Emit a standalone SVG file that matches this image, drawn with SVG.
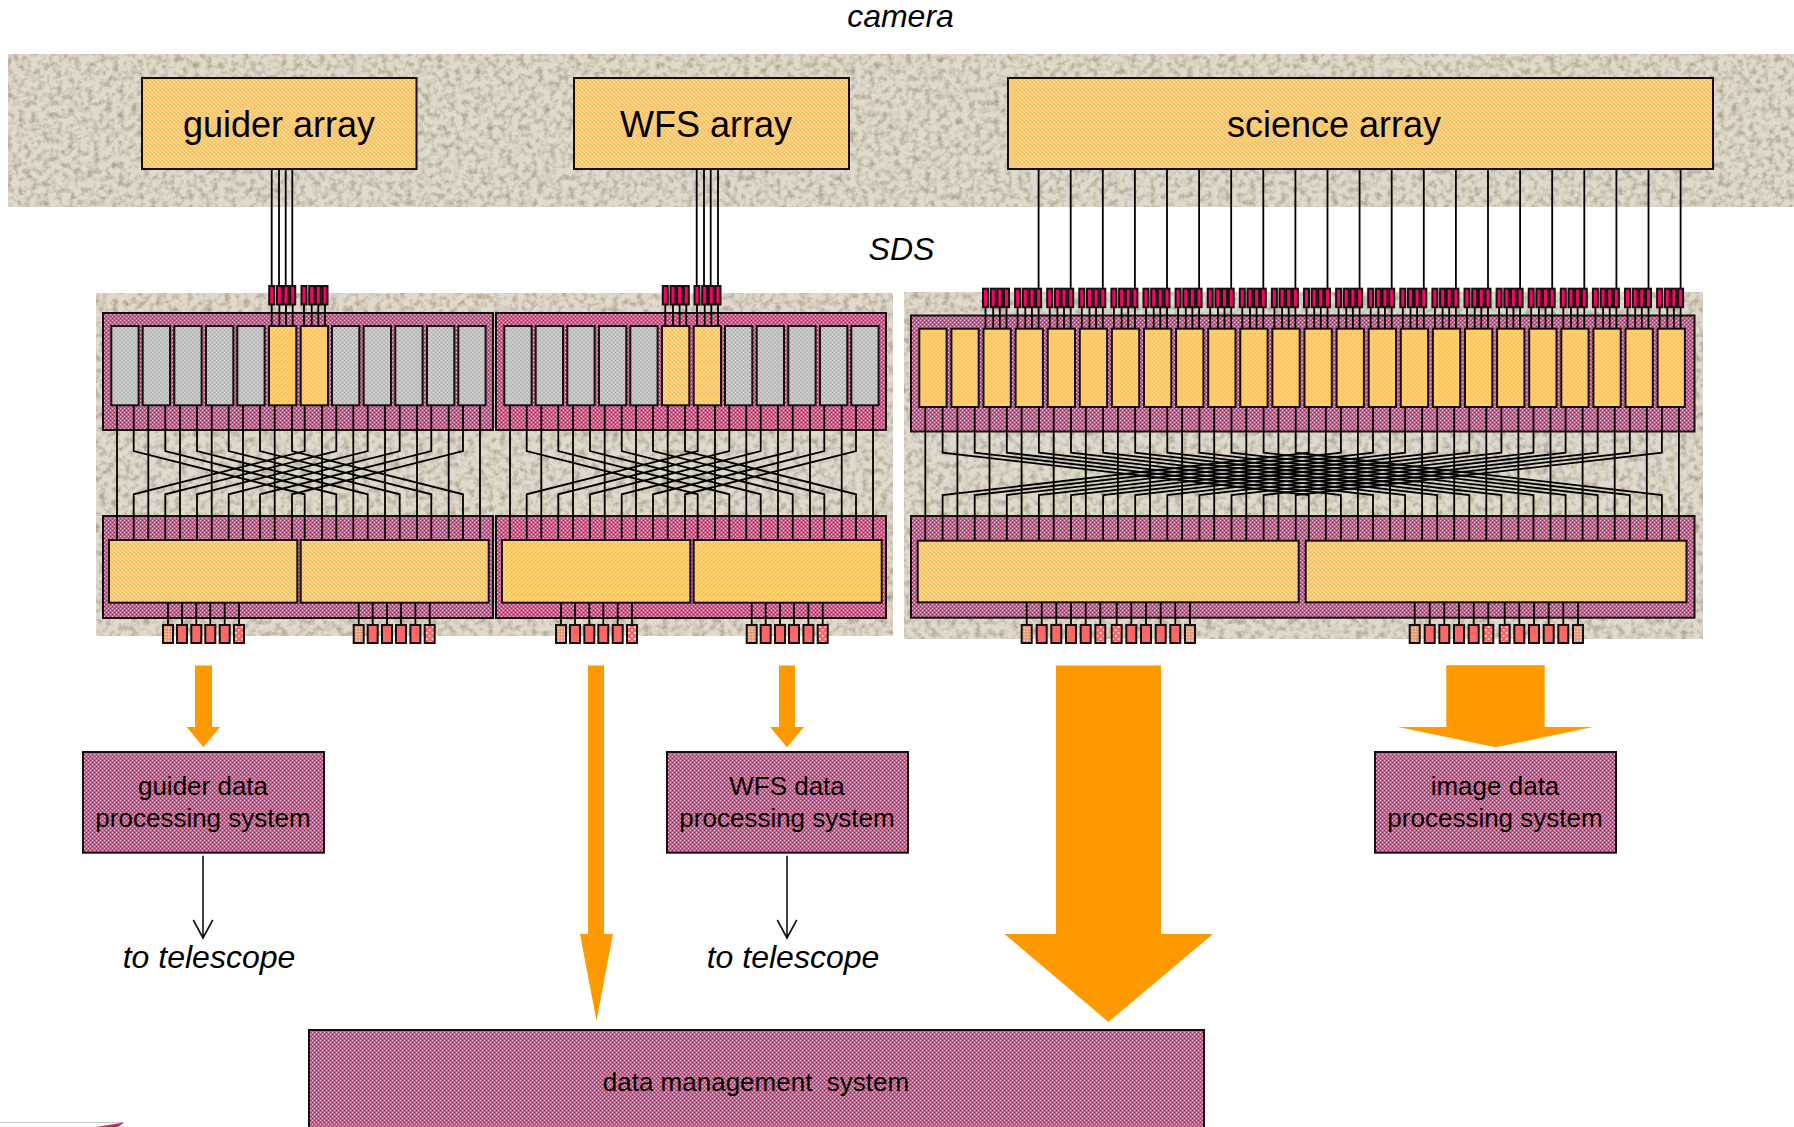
<svg xmlns="http://www.w3.org/2000/svg" xmlns:xlink="http://www.w3.org/1999/xlink" width="1794" height="1127" viewBox="0 0 1794 1127">
<style>
text{font-family:"Liberation Sans",Arial,sans-serif;fill:#000;text-anchor:middle}
.big{font-size:36px}
.mid{font-size:26px;white-space:pre}
.it{font-size:32px;font-style:italic}
.bg{fill:#E1DACC;filter:url(#speck)}
.s{stroke:#111;stroke-width:2}
.pu{fill:url(#pPurple)}
.or{fill:url(#pOrange)}
.gr{fill:url(#pGrey)}
.pk{fill:#FF0066;stroke:#111;stroke-width:2}
.w{fill:none;stroke:#000;stroke-width:1.8}
.c1{fill:url(#pSalmon);stroke:#111;stroke-width:2}
.c2{fill:#FF6666;stroke:#111;stroke-width:2}
.c3{fill:url(#pDots);stroke:#111;stroke-width:2}
.ar{fill:#FF9900}
.thin{fill:none;stroke:#111;stroke-width:1.6}
</style>
<defs>
<filter id="speck" x="0" y="0" width="100%" height="100%" color-interpolation-filters="sRGB">
<feTurbulence type="fractalNoise" baseFrequency="0.16" numOctaves="3" seed="4"/>
<feColorMatrix values="0 0 0 0 .45 0 0 0 0 .40 0 0 0 0 .32 1.1 0 0 0 -.46"/>
<feMerge result="noise"><feMergeNode in="SourceGraphic"/><feMergeNode/></feMerge>
</filter>
<pattern id="pPurple" width="4" height="4" patternUnits="userSpaceOnUse"><rect width="4" height="4" fill="#C6608A"/><rect width="1" height="1" fill="#F2C4D8"/><rect x="2" y="2" width="1" height="1" fill="#F2C4D8"/><rect x="2" width="1" height="1" fill="#A82C64"/><rect y="2" width="1" height="1" fill="#A82C64"/></pattern>
<pattern id="pOrange" width="4" height="4" patternUnits="userSpaceOnUse"><rect width="4" height="4" fill="#FFC966"/><rect width="1" height="1" fill="#FFE2A6"/><rect x="2" y="2" width="1" height="1" fill="#FFE2A6"/><rect x="2" width="1" height="1" fill="#FFB84A"/><rect y="2" width="1" height="1" fill="#FFB84A"/></pattern>
<pattern id="pGrey" width="4" height="4" patternUnits="userSpaceOnUse"><rect width="4" height="4" fill="#C2C2C2"/><rect width="1" height="1" fill="#DEDEDE"/><rect x="2" y="2" width="1" height="1" fill="#DEDEDE"/><rect x="2" width="1" height="1" fill="#A8A8A8"/><rect y="2" width="1" height="1" fill="#A8A8A8"/></pattern>
<pattern id="pSalmon" width="3" height="3" patternUnits="userSpaceOnUse"><rect width="3" height="3" fill="#EBA383"/><rect width="1" height="1" fill="#F8D8C0"/><rect x="2" y="1" width="1" height="1" fill="#E0805C"/></pattern>
<pattern id="pDots" width="6" height="6" patternUnits="userSpaceOnUse"><rect width="6" height="6" fill="#FF6666"/><rect x="1" y="1" width="2" height="2" fill="#FFC8C8"/><rect x="4" y="4" width="2" height="2" fill="#FFC8C8"/></pattern>
<g id="t4">
<path class="w" d="M2 0V-22M9.7 0V-22M16.3 0V-22M23 0V-22"/>
<rect class="pk" x="-.5" y="-40" width="5" height="18.5"/><rect class="pk" x="7.2" y="-40" width="5" height="18.5"/><rect class="pk" x="13.8" y="-40" width="5" height="18.5"/><rect class="pk" x="20.5" y="-40" width="5" height="18.5"/>
</g>
<g id="b6">
<path class="w" d="M0 -22V0M14 -22V0M28.3 -22V0M42.3 -22V0M56.7 -22V0M71 -22V0"/>
<rect class="c1" x="-5" y="0" width="10" height="18"/><rect class="c2" x="9" y="0" width="10" height="18"/><rect class="c2" x="23.3" y="0" width="10" height="18"/><rect class="c2" x="37.3" y="0" width="10" height="18"/><rect class="c2" x="51.7" y="0" width="10" height="18"/><rect class="c3" x="66" y="0" width="10" height="18"/>
</g>
<g id="b12">
<path class="w" d="M0 -22V0M15 -22V0M29.6 -22V0M44.3 -22V0M59 -22V0M73.6 -22V0M90 -22V0M104.6 -22V0M119.3 -22V0M134 -22V0M148.6 -22V0M163.3 -22V0"/>
<rect class="c1" x="-5" width="10" height="18"/><rect class="c2" x="10" width="10" height="18"/><rect class="c2" x="24.6" width="10" height="18"/><rect class="c2" x="39.3" width="10" height="18"/><rect class="c2" x="54" width="10" height="18"/><rect class="c3" x="68.6" width="10" height="18"/><rect class="c3" x="85" width="10" height="18"/><rect class="c2" x="99.6" width="10" height="18"/><rect class="c2" x="114.3" width="10" height="18"/><rect class="c2" x="129" width="10" height="18"/><rect class="c2" x="143.6" width="10" height="18"/><rect class="c1" x="158.3" width="10" height="18"/>
</g>
<rect id="bx" class="s" width="27.3" height="79.3"/>
<rect id="bs" class="s or" width="27.3" height="78.3"/>
<g id="wires12">
<path class="w" d="M117 405V540M148.3 405V540M180 405V540M211.7 405V540M243 405V540M274.7 405V540M322 405V540M353.3 405V540M385 405V540M417 405V540M448.7 405V540M480 405V540"/>
<path class="w" d="M133.7 405V451L304.7 494.3V540M165.3 405V451L336.3 494.3V540M197 405V451L367.7 494.3V540M228.7 405V451L399.7 494.3V540M260 405V451L431.3 494.3V540M292 405V451L463 494.3V540M304.7 405V451L133.7 494.3V540M336.3 405V451L165.3 494.3V540M367.7 405V451L197 494.3V540M399.7 405V451L228.7 494.3V540M431.3 405V451L260 494.3V540M463 405V451L292 494.3V540"/>
</g>
<g id="panel12">
<rect class="s pu" x="103" y="313" width="390" height="117"/>
<rect class="s pu" x="103" y="516" width="390" height="102"/>
<use xlink:href="#bx" href="#bx" x="111.3" y="326" class="gr"/><use href="#bx" x="142.7" y="326" class="gr"/><use href="#bx" x="174.3" y="326" class="gr"/><use href="#bx" x="206" y="326" class="gr"/><use href="#bx" x="237.3" y="326" class="gr"/><use href="#bx" x="269" y="326" class="or"/><use href="#bx" x="300.7" y="326" class="or"/><use href="#bx" x="332" y="326" class="gr"/><use href="#bx" x="363.7" y="326" class="gr"/><use href="#bx" x="395.3" y="326" class="gr"/><use href="#bx" x="427" y="326" class="gr"/><use href="#bx" x="458.3" y="326" class="gr"/>
<rect class="s or" x="109" y="540" width="188.3" height="62.7"/>
<rect class="s or" x="300.7" y="540" width="188" height="62.7"/>
<use href="#b6" x="168" y="625"/><use href="#b6" x="358.7" y="625"/>
</g>
</defs>

<g id="background">
<rect class="bg" x="8" y="54" width="1786" height="153"/>
<rect class="bg" x="96" y="293" width="797" height="343"/>
<rect class="bg" x="904" y="292" width="799" height="347"/>
</g>

<g id="guider-array"><rect class="s or" x="142" y="78" width="274.5" height="91"/><text class="big" x="279" y="137">guider array</text></g>
<g id="wfs-array"><rect class="s or" x="574" y="78" width="275" height="91"/><text class="big" x="706" y="137">WFS array</text></g>
<g id="science-array"><rect class="s or" x="1008" y="78" width="705" height="91"/><text class="big" x="1334" y="137">science array</text></g>

<text id="label-camera" class="it" x="900.5" y="27">camera</text>
<text id="label-sds" class="it" x="901.5" y="260">SDS</text>

<g id="sds-guider"><use href="#panel12"/></g>
<g id="sds-wfs"><use href="#panel12" x="393"/></g>
<g id="sds-science">
<rect class="s pu" x="911" y="315.5" width="783.5" height="116"/>
<rect class="s pu" x="911" y="516" width="783.5" height="101.7"/>
<g transform="translate(0 328.7)"><use href="#bs" x="919.3"/><use href="#bs" x="951.4"/><use href="#bs" x="983.5"/><use href="#bs" x="1015.6"/><use href="#bs" x="1047.7"/><use href="#bs" x="1079.8"/><use href="#bs" x="1111.9"/><use href="#bs" x="1144"/><use href="#bs" x="1176.1"/><use href="#bs" x="1208.2"/><use href="#bs" x="1240.3"/><use href="#bs" x="1272.4"/><use href="#bs" x="1304.5"/><use href="#bs" x="1336.6"/><use href="#bs" x="1368.7"/><use href="#bs" x="1400.8"/><use href="#bs" x="1432.9"/><use href="#bs" x="1465"/><use href="#bs" x="1497.1"/><use href="#bs" x="1529.2"/><use href="#bs" x="1561.3"/><use href="#bs" x="1593.4"/><use href="#bs" x="1625.5"/><use href="#bs" x="1657.6"/></g>
<rect class="s or" x="917.7" y="540.7" width="381" height="61.6"/>
<rect class="s or" x="1305.7" y="540.7" width="380.8" height="61.6"/>
<use href="#b12" x="1026.7" y="625"/><use href="#b12" x="1414.7" y="625"/>
</g>

<g id="connectors">
<use href="#wires12"/>
<use href="#wires12" x="393"/>
<path class="w" d="M925.3 407V541M957.4 407V541M989.5 407V541M1021.6 407V541M1053.7 407V541M1085.8 407V541M1117.9 407V541M1150 407V541M1182.1 407V541M1214.2 407V541M1246.3 407V541M1278.4 407V541M1325.8 407V541M1357.9 407V541M1390 407V541M1422.1 407V541M1454.2 407V541M1486.3 407V541M1518.4 407V541M1550.5 407V541M1582.6 407V541M1614.7 407V541M1646.8 407V541M1678.9 407V541"/>
<path class="w" d="M942.6 407V452.7L1308.8 495V541M974.7 407V452.7L1340.9 495V541M1006.8 407V452.7L1373 495V541M1038.9 407V452.7L1405.1 495V541M1071 407V452.7L1437.2 495V541M1103.1 407V452.7L1469.3 495V541M1135.2 407V452.7L1501.4 495V541M1167.3 407V452.7L1533.5 495V541M1199.4 407V452.7L1565.6 495V541M1231.5 407V452.7L1597.7 495V541M1263.6 407V452.7L1629.8 495V541M1295.7 407V452.7L1661.9 495V541"/>
<path class="w" d="M1308.8 407V452.7L942.6 495V541M1340.9 407V452.7L974.7 495V541M1373 407V452.7L1006.8 495V541M1405.1 407V452.7L1038.9 495V541M1437.2 407V452.7L1071 495V541M1469.3 407V452.7L1103.1 495V541M1501.4 407V452.7L1135.2 495V541M1533.5 407V452.7L1167.3 495V541M1565.6 407V452.7L1199.4 495V541M1597.7 407V452.7L1231.5 495V541M1629.8 407V452.7L1263.6 495V541M1661.9 407V452.7L1295.7 495V541"/>
<path class="w" d="M271.7 169V286M279 169V286M285.7 169V286M292.3 169V286"/>
<path class="w" d="M696.7 169V286M704 169V286M710.7 169V286M718 169V286"/>
<path class="w" d="M1038.6 169V289M1070.7 169V289M1102.8 169V289M1134.9 169V289M1167 169V289M1199.1 169V289M1231.2 169V289M1263.3 169V289M1295.4 169V289M1327.5 169V289M1359.6 169V289M1391.7 169V289M1423.8 169V289M1455.9 169V289M1488 169V289M1520.1 169V289M1552.2 169V289M1584.3 169V289M1616.4 169V289M1648.5 169V289M1680.6 169V289"/>
<path class="thin" d="M203 855.7V938M193.3 920L203 938L212.7 920"/>
<path class="thin" d="M787 855.7V938M777.3 920L787 938L796.7 920"/>
<path class="ar" d="M195 665.5H212V727H220L203.5 747.3L186.7 727H195Z"/>
<path class="ar" d="M588 665.5H604V934H613L596.5 1021L580 934H588Z"/>
<path class="ar" d="M779 665.5H795V727H804L787 747.3L770 727H779Z"/>
<path class="ar" d="M1056 665.5H1161V934H1213L1108.5 1022L1004.5 934H1056Z"/>
<path class="ar" d="M1446.3 665.3H1544.7V727H1593L1495.7 747.3L1398 727H1446.3Z"/>
</g>

<g id="tops">
<use href="#t4" x="269.7" y="326"/><use href="#t4" x="302" y="326"/>
<use href="#t4" x="663.3" y="326"/><use href="#t4" x="695" y="326"/>
<g transform="translate(0 328.7)"><use href="#t4" x="983.5"/><use href="#t4" x="1015.6"/><use href="#t4" x="1047.7"/><use href="#t4" x="1079.8"/><use href="#t4" x="1111.9"/><use href="#t4" x="1144"/><use href="#t4" x="1176.1"/><use href="#t4" x="1208.2"/><use href="#t4" x="1240.3"/><use href="#t4" x="1272.4"/><use href="#t4" x="1304.5"/><use href="#t4" x="1336.6"/><use href="#t4" x="1368.7"/><use href="#t4" x="1400.8"/><use href="#t4" x="1432.9"/><use href="#t4" x="1465"/><use href="#t4" x="1497.1"/><use href="#t4" x="1529.2"/><use href="#t4" x="1561.3"/><use href="#t4" x="1593.4"/><use href="#t4" x="1625.5"/><use href="#t4" x="1657.6"/></g>
</g>

<g id="guider-processing"><rect class="s pu" x="83" y="752" width="241" height="100.7"/><text class="mid" x="203" y="795">guider data</text><text class="mid" x="203" y="827">processing system</text></g>
<g id="wfs-processing"><rect class="s pu" x="667" y="752" width="241" height="100.7"/><text class="mid" x="787" y="795">WFS data</text><text class="mid" x="787" y="827">processing system</text></g>
<g id="image-processing"><rect class="s pu" x="1375" y="752" width="241" height="100.7"/><text class="mid" x="1495" y="795">image data</text><text class="mid" x="1495" y="827">processing system</text></g>
<g id="data-management"><rect class="s pu" x="309" y="1030" width="895" height="110"/><text class="mid" x="756" y="1091">data management  system</text></g>

<text id="label-telescope-1" class="it" x="209" y="968">to telescope</text>
<text id="label-telescope-2" class="it" x="793" y="968">to telescope</text>

<g id="corner-fragment"><path d="M0 1122.5H124" fill="none" stroke="#C8C8C0" stroke-width="1"/><path d="M96 1127L124 1122.5L118 1127Z" fill="#B0305F"/></g>
</svg>
